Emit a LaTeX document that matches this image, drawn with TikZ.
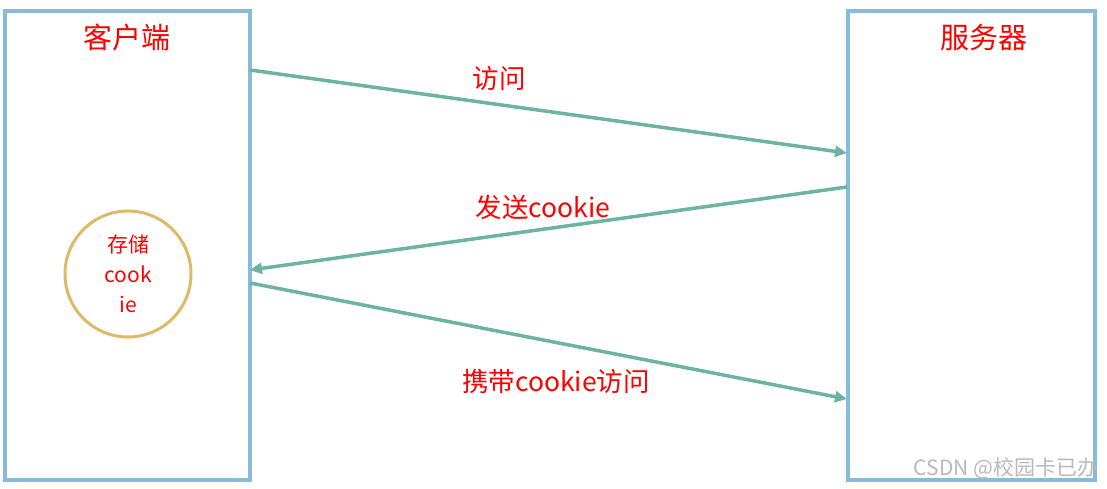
\documentclass[tikz,border=0pt]{standalone}
\usepackage{fontspec}
\setmainfont{Liberation Sans}
\newfontfamily\cjk{Noto Sans CJK SC}
\usetikzlibrary{arrows.meta}

\definecolor{boxblue}{RGB}{135,186,219}
\definecolor{flowteal}{RGB}{108,180,160}
\definecolor{ringgold}{RGB}{222,186,102}
\definecolor{marktxt}{RGB}{185,185,185}

\tikzset{
  party/.style={draw=boxblue, line width=4pt, minimum width=245pt, minimum height=469pt, inner sep=0pt},
  flow/.style={draw=flowteal, line width=3.5pt, -{Triangle[length=12pt,width=11pt]}},
  redtxt/.style={text=red, font=\cjk\fontsize{26.5}{28}\selectfont, inner sep=0pt},
}

\begin{document}
\begin{tikzpicture}[x=1pt,y=-1pt]
\useasboundingbox (0,0) rectangle (1107,489);
% the two parties
\node[party] (client) at (127.5,245.5) {};
\node[party, minimum width=247pt] (server) at (971.5,245.5) {};
\node[redtxt, font=\cjk\fontsize{29}{31}\selectfont] (clientlab) at (127,37) {客户端};
\node[redtxt, font=\cjk\fontsize{29}{31}\selectfont] (serverlab) at (984,37) {服务器};
% stored cookie
\node[draw=ringgold, line width=3pt, circle, minimum size=126pt, inner sep=0pt, align=center,
      text=red, font=\cjk\fontsize{21}{30}\selectfont] (store) at (128,274) {存储\\cook\\ie};
% end points on the box edges
\coordinate (c1) at (250,70);
\coordinate (s1) at (847,153);
\coordinate (s2) at (847,187);
\coordinate (c2) at (250,270);
\coordinate (c3) at (250,283);
\coordinate (s3) at (847,399);
\draw[flow] (c1) -- (s1);
\draw[flow] (s2) -- (c2);
\draw[flow] (c3) -- (s3);
\node[redtxt] (visit) at (499,78) {访问};
\node[redtxt] (send) at (543,207) {发送cookie};
\node[redtxt] (carry) at (556,381) {携带cookie访问};
% watermark
\node[text=marktxt, font=\cjk\fontsize{21}{23}\selectfont, inner sep=0pt] (mark) at (1006,468) {CSDN @校园卡已办};
\end{tikzpicture}
\end{document}
